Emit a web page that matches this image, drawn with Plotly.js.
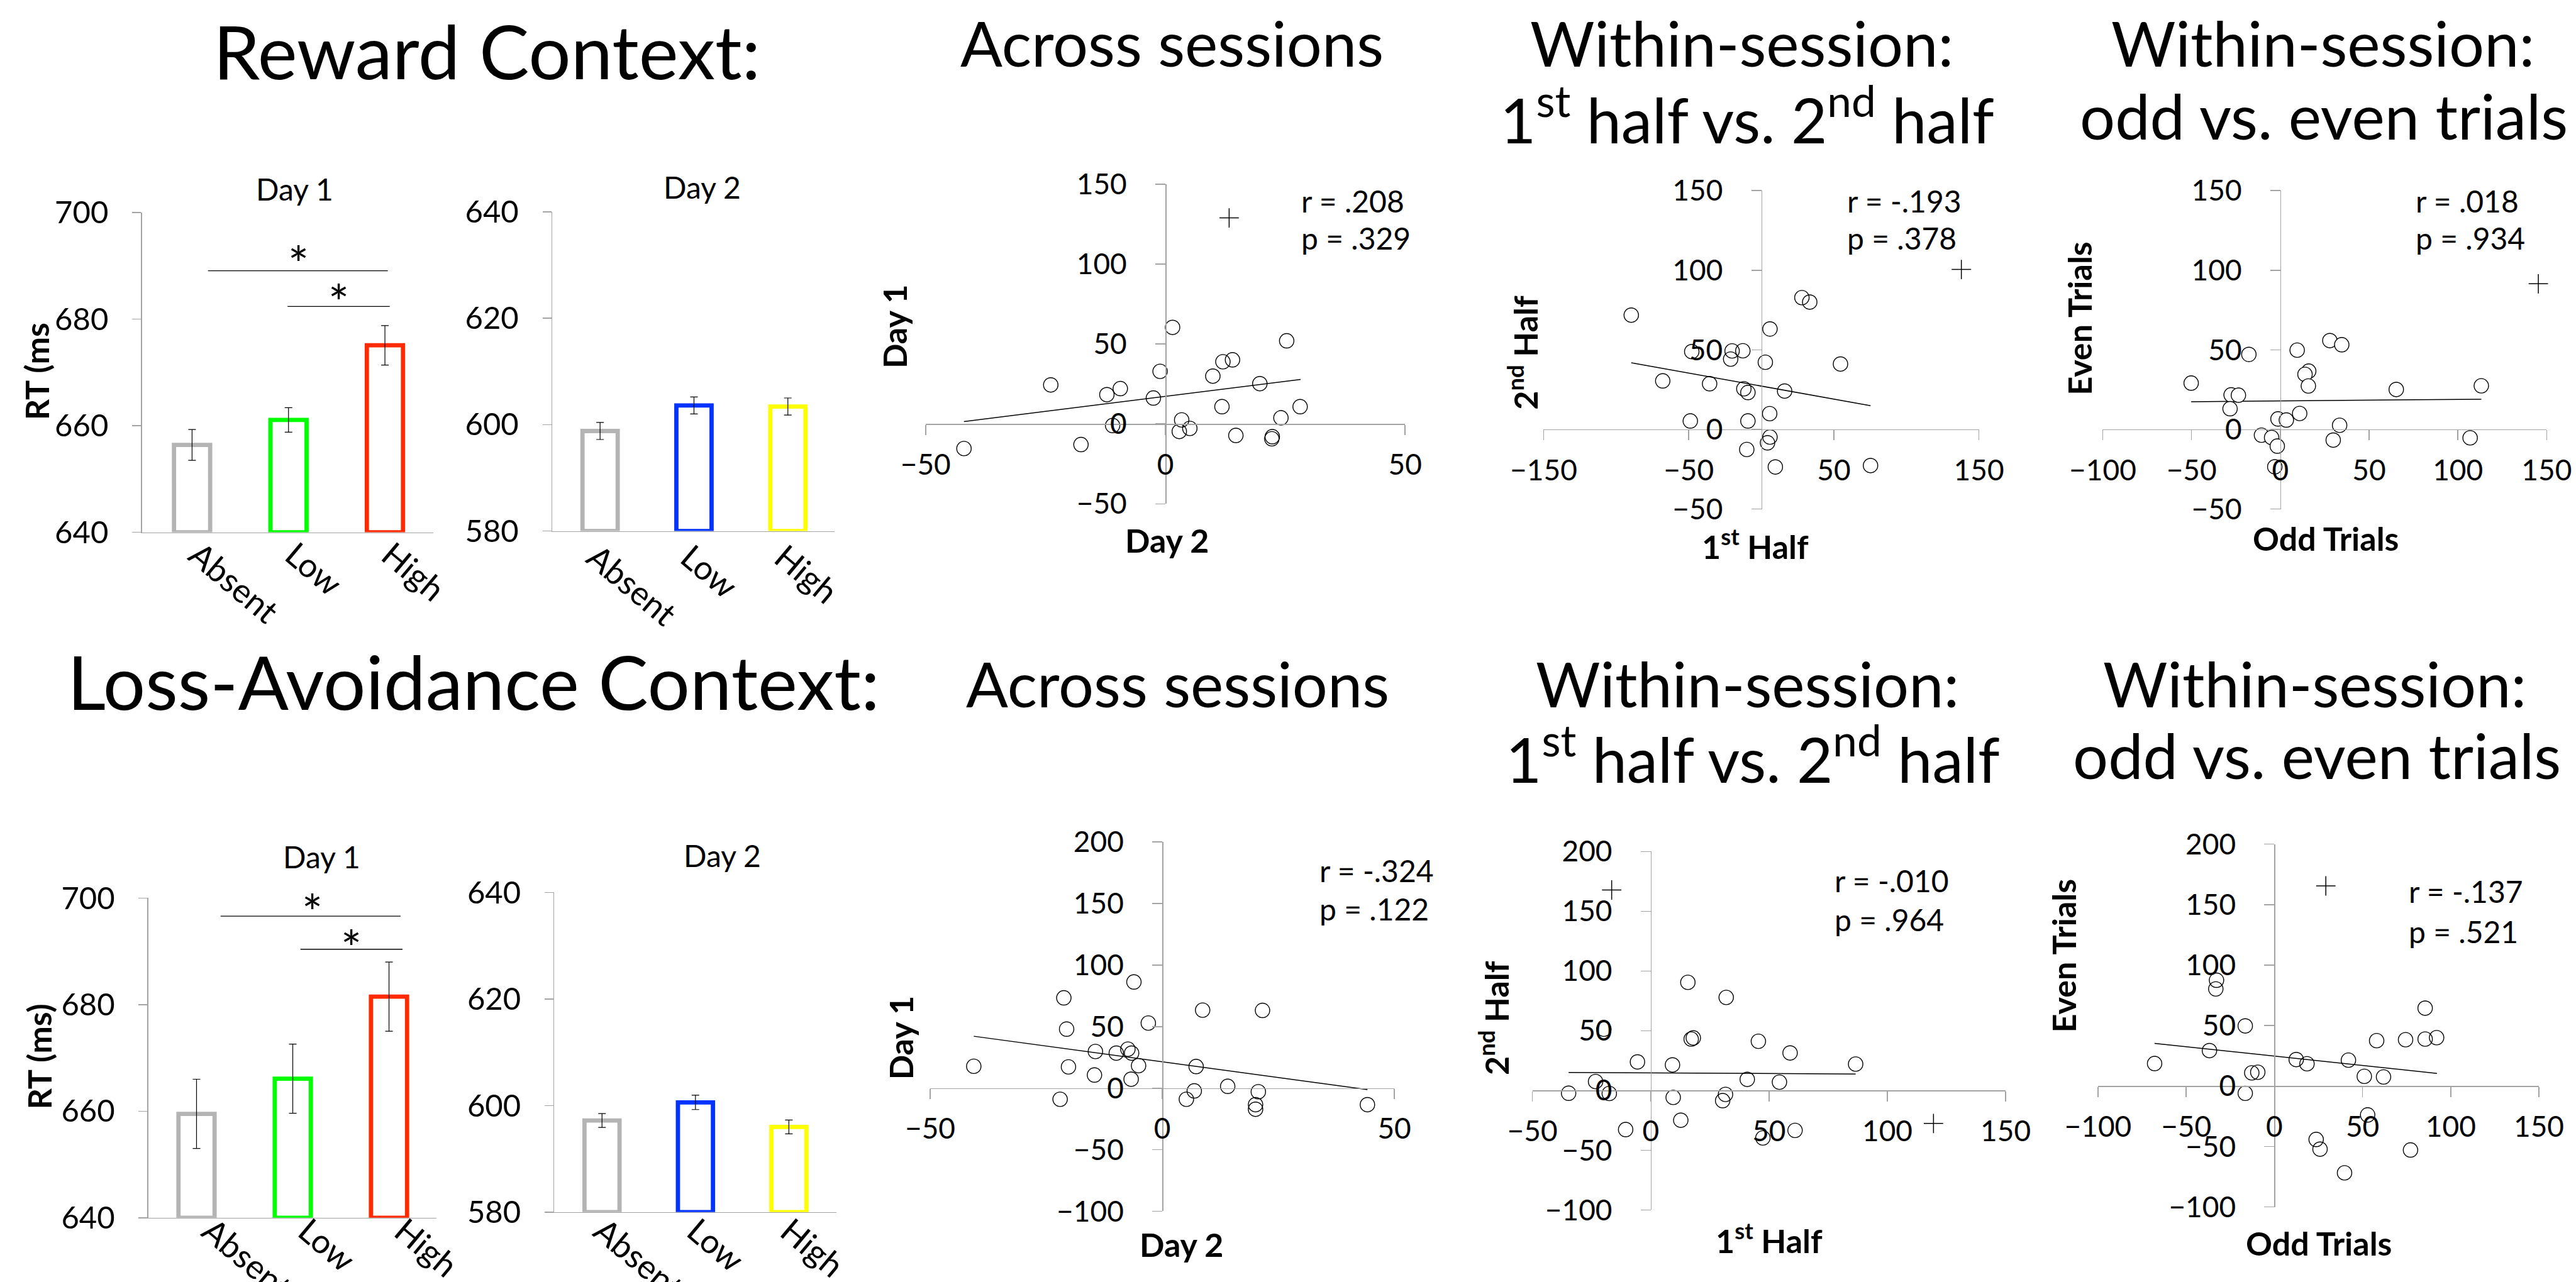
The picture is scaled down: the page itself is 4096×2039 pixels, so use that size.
<!DOCTYPE html>
<html><head><meta charset="utf-8">
<script src="https://cdn.plot.ly/plotly-3.0.1.min.js"></script>
<style>html,body{margin:0;padding:0;background:#fff;}#chart{width:4096px;height:2039px;}</style>
</head><body><div id="chart"></div>
<script>
// ---------------- DATA ----------------
const categories = ['Absent', 'Low', 'High'];
const rewardDay1 = [656.4, 661.1, 675.1];
const rewardDay1Err = [2.9, 2.3, 3.7];
const rewardDay2 = [598.8, 603.6, 603.4];
const rewardDay2Err = [1.6, 1.6, 1.6];
const lossDay1 = [659.5, 666.1, 681.5];
const lossDay1Err = [6.5, 6.5, 6.5];
const lossDay2 = [597.2, 600.6, 596.0];
const lossDay2Err = [1.3, 1.35, 1.3];

// significance brackets: [x start, x end, y] (x in category index units); stars: [x, y]
const rewardSigLines = [[0.165, 2.03, 689.1], [0.99, 2.05, 682.4]];
const rewardSigStars = [[1.10, 692.5], [1.52, 685.3]];
const lossSigLines = [[0.25, 2.12, 696.6], [1.08, 2.14, 690.4]];
const lossSigStars = [[1.20, 699.4], [1.61, 692.7]];

// Reward, across sessions (x = Day 2, y = Day 1)
const acrossRewardX = [-42.0,-23.9,-17.6,-12.2,-9.4,-11.0,-2.5,-1.1,1.5,3.4,2.9,5.1,9.9,11.8,12.0,14.0,14.7,19.7,22.3,22.2,24.1,25.3,28.1];
const acrossRewardY = [-15.4,24.4,-12.9,18.3,22.1,-1.0,16.2,32.9,60.4,2.5,-4.7,-2.8,29.9,10.8,38.9,40.1,-7.2,25.2,-8.0,-9.3,3.8,52.0,10.8];
const acrossRewardOutX = [13.3], acrossRewardOutY = [128.9];
const acrossRewardFitX = [-42.0, 28.2], acrossRewardFitY = [1.5, 27.8];
const acrossRewardStats = ['r = .208', 'p = .329'];

// Reward, 1st half vs 2nd half
const halfRewardX = [-89.6,-67.9,-47.9,-48.9,-35.6,-20.1,-21.1,-12.7,-12.0,-9.2,-9.2,-10.0,2.8,6.0,16.1,5.8,6.0,4.3,9.7,28.0,33.4,54.6,75.3];
const halfRewardY = [71.8,30.5,48.9,5.3,28.7,49.3,44.2,49.4,25.5,23.2,5.3,-12.6,42.2,63.1,24.1,9.9,-4.8,-8.4,-23.6,82.8,80.0,41.1,-22.7];
const halfRewardOutX = [137.9], halfRewardOutY = [100.5];
const halfRewardFitX = [-89.6, 75.3], halfRewardFitY = [41.9, 14.9];
const halfRewardStats = ['r = -.193', 'p = .378'];

// Reward, odd vs even trials
const oddRewardX = [-50.2,-17.7,-27.7,-23.6,-28.3,-10.6,-4.9,-1.7,-3.1,-1.3,3.4,9.5,10.9,16.0,13.9,15.8,27.9,34.6,33.4,29.8,65.3,113.2,106.9];
const oddRewardY = [29.1,47.1,21.7,21.5,13.0,-3.6,-5.1,-10.5,-23.5,6.6,5.9,49.8,10.0,36.6,34.6,27.3,55.8,53.2,2.6,-6.7,25.1,27.4,-5.3];
const oddRewardOutX = [145.3], oddRewardOutY = [91.5];
const oddRewardFitX = [-50.2, 113.2], oddRewardFitY = [17.4, 19.0];
const oddRewardStats = ['r = .018', 'p = .934'];

// Loss-avoidance, across sessions
const acrossLossX = [-40.6,-21.2,-20.6,-20.2,-22.0,-14.4,-14.6,-9.9,-7.4,-6.6,-5.1,-6.7,-6.1,-3.0,7.3,6.9,5.2,8.7,14.1,20.7,20.1,20.1,21.6,44.2];
const acrossLossY = [17.8,73.4,48.0,17.3,-9.0,29.8,10.7,28.5,31.7,28.5,18.3,7.3,86.3,52.9,17.6,-2.2,-9.0,63.4,1.5,-2.9,-13.4,-17.1,63.2,-13.4];
const acrossLossOutX = [], acrossLossOutY = [];
const acrossLossFitX = [-40.6, 44.2], acrossLossFitY = [42.2, -1.2];
const acrossLossStats = ['r = -.324', 'p = .122'];

// Loss-avoidance, 1st half vs 2nd half
const halfLossX = [-34.7,-23.3,-19.8,-17.5,-10.6,-5.6,9.2,9.5,12.7,15.7,17.1,18.0,31.6,30.4,31.9,40.8,45.5,47.4,54.4,58.9,61.0,86.6];
const halfLossY = [-2.3,7.5,51.3,-2.5,-32.7,23.9,21.4,-5.8,-24.9,90.5,43.0,44.0,-3.3,-8.5,77.9,9.3,41.2,-39.7,7.0,31.4,-33.4,22.1];
const halfLossOutX = [-16.5, 119.5], halfLossOutY = [167.8, -27.6];
const halfLossFitX = [-34.7, 86.6], halfLossFitY = [15.1, 13.8];
const halfLossStats = ['r = -.010', 'p = .964'];

// Loss-avoidance, odd vs even trials
const oddLossX = [-67.9,-36.8,-32.8,-33.2,-16.5,-12.8,-9.4,-16.5,12.4,18.5,23.7,25.9,39.8,42.0,51.0,52.9,58.0,61.9,74.4,77.2,85.5,85.5,92.0];
const oddLossY = [18.6,29.3,87.5,80.3,49.7,10.9,11.4,-6.0,21.9,18.4,-44.2,-52.2,-71.8,21.4,8.0,-23.9,37.5,7.5,38.3,-52.9,64.4,38.8,40.0];
const oddLossOutX = [29.2], oddLossOutY = [165.5];
const oddLossFitX = [-67.9, 92.2], oddLossFitY = [35.3, 10.4];
const oddLossStats = ['r = -.137', 'p = .521'];

// ---------------- STYLE / LAYOUT ----------------
const W = 5971, H = 2972;            // reference geometry used for fractions
const FONT = 'Lato, "Noto Sans", sans-serif';
const GRAY = '#a3a3a3';
const day1Colors = ['#b4b4b4', '#00ff00', '#ff2a00'];
const day2Colors = ['#b4b4b4', '#0033ff', '#ffff00'];
const hd = (a, b) => [a / W, b / W];
const vd = (t, b) => [1 - b / H, 1 - t / H];
const px = x => x / W, py = y => 1 - y / H;
const catIdx = categories.map((c, i) => i);

const traces = [];
const layout = {
  width: 4096, height: 2039, margin: {l: 0, r: 0, t: 0, b: 0},
  paper_bgcolor: '#fff', plot_bgcolor: 'rgba(0,0,0,0)', showlegend: false,
  font: {family: FONT, color: '#000'}, annotations: []
};
function ann(text, x, y, size, opts) {
  layout.annotations.push(Object.assign({text: text, x: px(x), y: py(y), xref: 'paper', yref: 'paper',
    showarrow: false, xanchor: 'center', yanchor: 'middle',
    font: {family: FONT, size: size, color: '#000'}}, opts || {}));
}

function barPanel(n, vals, errs, colors, yr, yticks, g, sigL, sigS) {
  layout['xaxis' + n] = {domain: hd(g.l, g.r), range: g.xr, anchor: 'y' + n, type: 'linear',
    tickvals: catIdx, ticktext: categories,
    showline: true, linecolor: GRAY, linewidth: 1.5, ticks: '', showgrid: false, zeroline: false,
    tickangle: 40, tickfont: {family: FONT, size: 53}, ticklabelstandoff: g.so, ticklabelshift: g.sh,
    automargin: false};
  layout['yaxis' + n] = {domain: vd(g.t, g.b), range: yr, anchor: 'x' + n, tickvals: yticks,
    showline: true, linecolor: GRAY, linewidth: 1.5, ticks: 'outside', ticklen: 14, tickwidth: 1.5, tickcolor: GRAY,
    showgrid: false, zeroline: false, tickfont: {family: FONT, size: 49}, ticklabelstandoff: 28, automargin: false};
  traces.push({type: 'bar', x: catIdx, y: vals.map(v => v - yr[0]), base: yr[0], xaxis: 'x' + n, yaxis: 'y' + n,
    width: 0.375, cliponaxis: false,
    marker: {color: 'rgba(255,255,255,0)', line: {color: colors, width: 6.8}},
    error_y: {type: 'data', array: errs, visible: true, color: '#000', thickness: 1.2, width: 6}, hoverinfo: 'skip'});
  if (sigL) {
    sigL.forEach(s => traces.push({type: 'scatter', mode: 'lines', x: [s[0], s[1]], y: [s[2], s[2]],
      xaxis: 'x' + n, yaxis: 'y' + n, line: {color: '#000', width: 1.3}, hoverinfo: 'skip', cliponaxis: false}));
    sigS.forEach(s => layout.annotations.push({text: '*', x: s[0], y: s[1], xref: 'x' + n, yref: 'y' + n,
      showarrow: false, yanchor: 'middle', yshift: -17, font: {family: FONT, size: 78, color: '#000'}}));
  }
}

barPanel(1, rewardDay1, rewardDay1Err, day1Colors, [640, 700], [640, 660, 680, 700],
  {l: 329, r: 1004, xr: [-0.52, 2.5], t: 493, b: 1234, so: -17, sh: 8}, rewardSigLines, rewardSigStars);
barPanel(2, rewardDay2, rewardDay2Err, day2Colors, [580, 640], [580, 600, 620, 640],
  {l: 1280, r: 1935, xr: [-0.51, 2.5], t: 491, b: 1231, so: -11, sh: -8});
barPanel(3, lossDay1, lossDay1Err, day1Colors, [640, 700], [640, 660, 680, 700],
  {l: 344, r: 1011, xr: [-0.50, 2.49], t: 2082, b: 2823, so: -32, sh: 22}, lossSigLines, lossSigStars);
barPanel(4, lossDay2, lossDay2Err, day2Colors, [580, 640], [580, 600, 620, 640],
  {l: 1285, r: 1939, xr: [-0.51, 2.51], t: 2069, b: 2810, so: -23, sh: 0});

function scatterPanel(n, g, xs, ys, ox, oy, fx, fy, stats, filled) {
  const xdom = hd(g.l, g.r), ydom = vd(g.t, g.b);
  const xAt0 = xdom[0] + (0 - g.xr[0]) / (g.xr[1] - g.xr[0]) * (xdom[1] - xdom[0]);
  const yAt0 = ydom[0] + (0 - g.yr[0]) / (g.yr[1] - g.yr[0]) * (ydom[1] - ydom[0]);
  const common = {showline: true, linecolor: GRAY, linewidth: 1.5, ticks: 'outside', ticklen: 16, tickwidth: 1.5,
    tickcolor: GRAY, showgrid: false, zeroline: false, tickfont: {family: FONT, size: 46}, automargin: false,
    anchor: 'free'};
  layout['xaxis' + n] = Object.assign({domain: xdom, range: g.xr, tickvals: g.xt, position: yAt0, side: 'bottom',
    ticklabelstandoff: 8}, common);
  layout['yaxis' + n] = Object.assign({domain: ydom, range: g.yr, tickvals: g.yt, position: xAt0, side: 'left',
    ticklabelstandoff: 36}, common);
  traces.push({type: 'scatter', mode: 'lines', x: fx, y: fy, xaxis: 'x' + n, yaxis: 'y' + n,
    line: {color: '#000', width: 1.5}, hoverinfo: 'skip'});
  traces.push({type: 'scatter', mode: 'markers', x: xs, y: ys, xaxis: 'x' + n, yaxis: 'y' + n, cliponaxis: false,
    marker: {symbol: 'circle', size: 23, color: filled ? '#fff' : 'rgba(0,0,0,0)', line: {color: '#000', width: 1.4}},
    hoverinfo: 'skip'});
  traces.push({type: 'scatter', mode: 'markers', x: ox, y: oy, xaxis: 'x' + n, yaxis: 'y' + n, cliponaxis: false,
    marker: {symbol: 'cross-thin-open', size: 22, color: '#000', line: {color: '#000', width: 1.5}}, hoverinfo: 'skip'});
  ann(stats[0], g.sx, g.sy[0], 48, {xanchor: 'left'});
  ann(stats[1], g.sx, g.sy[1], 48, {xanchor: 'left'});
}

const T50 = [-50, 0, 50, 100, 150], T100 = [-100, -50, 0, 50, 100, 150, 200];
scatterPanel(5, {l: 2145.5, r: 3257, t: 427, b: 1168, xr: [-50, 50], xt: [-50, 0, 50], yr: [-50, 150], yt: T50,
  sx: 3013, sy: [465, 552]},
  acrossRewardX, acrossRewardY, acrossRewardOutX, acrossRewardOutY, acrossRewardFitX, acrossRewardFitY, acrossRewardStats, false);
scatterPanel(6, {l: 3578, r: 4587, t: 442, b: 1180, xr: [-150, 150], xt: [-150, -50, 50, 150], yr: [-50, 150], yt: T50,
  sx: 4279, sy: [466, 552]},
  halfRewardX, halfRewardY, halfRewardOutX, halfRewardOutY, halfRewardFitX, halfRewardFitY, halfRewardStats, false);
scatterPanel(7, {l: 4874, r: 5903, t: 442, b: 1180, xr: [-100, 150], xt: [-100, -50, 0, 50, 100, 150], yr: [-50, 150], yt: T50,
  sx: 5596, sy: [466, 552]},
  oddRewardX, oddRewardY, oddRewardOutX, oddRewardOutY, oddRewardFitX, oddRewardFitY, oddRewardStats, true);
scatterPanel(8, {l: 2156, r: 3232, t: 1952, b: 2808, xr: [-50, 50], xt: [-50, 0, 50], yr: [-100, 200], yt: T100,
  sx: 3056, sy: [2018, 2107]},
  acrossLossX, acrossLossY, acrossLossOutX, acrossLossOutY, acrossLossFitX, acrossLossFitY, acrossLossStats, false);
scatterPanel(9, {l: 3552, r: 4649, t: 1974, b: 2805, xr: [-50, 150], xt: [-50, 0, 50, 100, 150], yr: [-100, 200], yt: T100,
  sx: 4250, sy: [2042, 2131]},
  halfLossX, halfLossY, halfLossOutX, halfLossOutY, halfLossFitX, halfLossFitY, halfLossStats, false);
scatterPanel(10, {l: 4863, r: 5885, t: 1957, b: 2798, xr: [-100, 150], xt: [-100, -50, 0, 50, 100, 150], yr: [-100, 200], yt: T100,
  sx: 5580, sy: [2066, 2159]},
  oddLossX, oddLossY, oddLossOutX, oddLossOutY, oddLossFitX, oddLossFitY, oddLossStats, false);

// ---------------- TEXT ----------------
ann('Reward Context:', 1128, 116, 119);
ann('Loss-Avoidance Context:', 1098, 1578, 119);
ann('Across sessions', 2717, 99, 99);
ann('Within-session:', 4038, 99, 99);
ann('1<sup>st</sup> half vs. 2<sup>nd</sup> half', 4050, 268, 99);
ann('Within-session:', 5384, 99, 99);
ann('odd vs. even trials', 5386, 268, 99);
ann('Across sessions', 2730, 1584, 99);
ann('Within-session:', 4050, 1584, 99);
ann('1<sup>st</sup> half vs. 2<sup>nd</sup> half', 4063, 1750, 99);
ann('Within-session:', 5365, 1584, 99);
ann('odd vs. even trials', 5371, 1750, 99);

ann('Day 1', 683, 438, 48);
ann('Day 2', 1627, 433, 48);
ann('Day 1', 745, 1986, 48);
ann('Day 2', 1674, 1983, 48);

const B = {family: FONT, size: 52, color: '#000', weight: 700};
ann('RT (ms', 84, 861, 52, {textangle: -90, font: B});
ann('RT (ms)', 90, 2450, 52, {textangle: -90, font: B});
ann('Day 1', 2074, 757, 52, {textangle: -90, font: B});
ann('Day 2', 2705, 1252, 52, {font: B});
ann('2<sup>nd</sup> Half', 3530, 818, 52, {textangle: -90, font: B});
ann('1<sup>st</sup> Half', 4069, 1262, 52, {font: B});
ann('Even Trials', 4820, 738, 52, {textangle: -90, font: B});
ann('Odd Trials', 5391, 1248, 52, {font: B});
ann('Day 1', 2087, 2406, 52, {textangle: -90, font: B});
ann('Day 2', 2739, 2884, 52, {font: B});
ann('2<sup>nd</sup> Half', 3462, 2360, 52, {textangle: -90, font: B});
ann('1<sup>st</sup> Half', 4101, 2871, 52, {font: B});
ann('Even Trials', 4783, 2216, 52, {textangle: -90, font: B});
ann('Odd Trials', 5375, 2881, 52, {font: B});

Plotly.newPlot('chart', traces, layout, {staticPlot: true, displayModeBar: false});
</script></body></html>
